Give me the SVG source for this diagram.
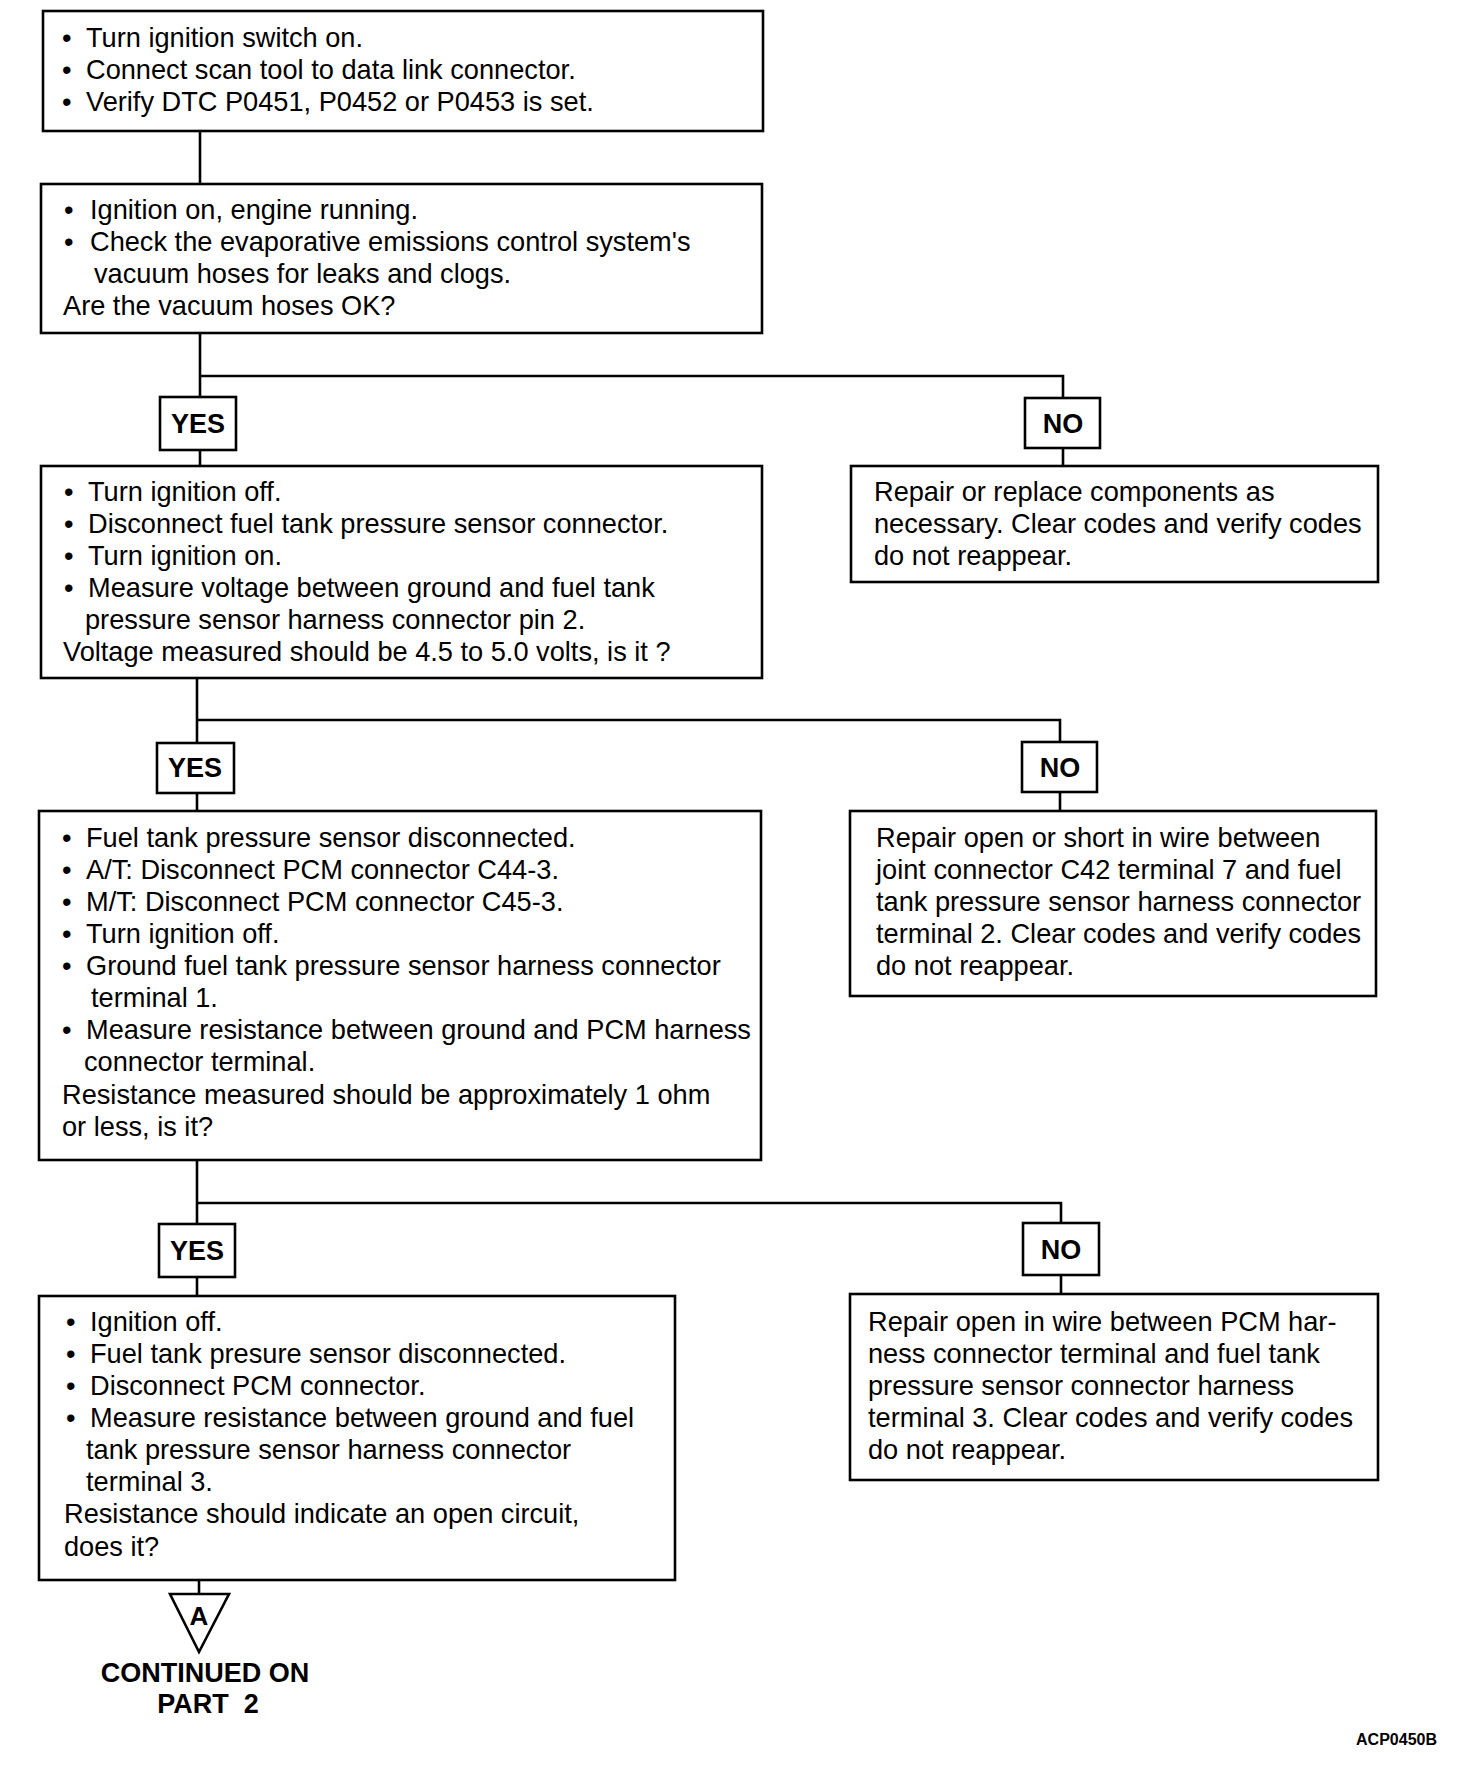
<svg xmlns="http://www.w3.org/2000/svg" width="1472" height="1788" viewBox="0 0 1472 1788">
<style>
.box{fill:#fff;stroke:#000;stroke-width:2.6}
.lbl{fill:#fff;stroke:#000;stroke-width:2.6}
.t{font-family:"Liberation Sans",Arial,sans-serif;font-size:27.2px;fill:#000}
.b{font-family:"Liberation Sans",Arial,sans-serif;font-size:27px;font-weight:bold;fill:#000;text-anchor:middle}
.c{fill:none;stroke:#000;stroke-width:2.6}
</style>
<rect width="1472" height="1788" fill="#fff"/>
<g id="connectors">
<path class="c" d="M200 131V184"/>
<path class="c" d="M200 333V397M200 450V466M200 376H1063V398M1063 448V466"/>
<path class="c" d="M197 678V743M197 793V811M197 720H1060V742M1060 792V811"/>
<path class="c" d="M197 1160V1224M197 1277V1296M197 1203H1061V1223M1061 1275V1294"/>
<path class="c" d="M199 1580V1594"/>
</g>
<g id="box1">
<rect class="box" x="43" y="11" width="720" height="120"/>
<text class="t" x="62" y="47">•</text><text class="t" x="86" y="47">Turn ignition switch on.</text>
<text class="t" x="62" y="79">•</text><text class="t" x="86" y="79">Connect scan tool to data link connector.</text>
<text class="t" x="62" y="111">•</text><text class="t" x="86" y="111">Verify DTC P0451, P0452 or P0453 is set.</text>
</g>
<g id="box2">
<rect class="box" x="41" y="184" width="721" height="149"/>
<text class="t" x="64" y="219">•</text><text class="t" x="90" y="219">Ignition on, engine running.</text>
<text class="t" x="64" y="251">•</text><text class="t" x="90" y="251">Check the evaporative emissions control system's</text>
<text class="t" x="94" y="283">vacuum hoses for leaks and clogs.</text>
<text class="t" x="63" y="315">Are the vacuum hoses OK?</text>
</g>
<g id="yes1"><rect class="lbl" x="160" y="397" width="76" height="53"/><text class="b" x="198" y="433">YES</text></g>
<g id="no1"><rect class="lbl" x="1025" y="398" width="75" height="50"/><text class="b" x="1063" y="433">NO</text></g>
<g id="box3">
<rect class="box" x="41" y="466" width="721" height="212"/>
<text class="t" x="64" y="501">•</text><text class="t" x="88" y="501">Turn ignition off.</text>
<text class="t" x="64" y="533">•</text><text class="t" x="88" y="533">Disconnect fuel tank pressure sensor connector.</text>
<text class="t" x="64" y="565">•</text><text class="t" x="88" y="565">Turn ignition on.</text>
<text class="t" x="64" y="597">•</text><text class="t" x="88" y="597">Measure voltage between ground and fuel tank</text>
<text class="t" x="85" y="629">pressure sensor harness connector pin 2.</text>
<text class="t" x="63" y="661">Voltage measured should be 4.5 to 5.0 volts, is it ?</text>
</g>
<g id="noresult1">
<rect class="box" x="851" y="466" width="527" height="116"/>
<text class="t" x="874" y="501">Repair or replace components as</text>
<text class="t" x="874" y="533">necessary. Clear codes and verify codes</text>
<text class="t" x="874" y="565">do not reappear.</text>
</g>
<g id="yes2"><rect class="lbl" x="157" y="743" width="77" height="50"/><text class="b" x="195" y="777">YES</text></g>
<g id="no2"><rect class="lbl" x="1022" y="742" width="75" height="50"/><text class="b" x="1060" y="777">NO</text></g>
<g id="box4">
<rect class="box" x="39" y="811" width="722" height="349"/>
<text class="t" x="62" y="847">•</text><text class="t" x="86" y="847">Fuel tank pressure sensor disconnected.</text>
<text class="t" x="62" y="879">•</text><text class="t" x="86" y="879">A/T: Disconnect PCM connector C44-3.</text>
<text class="t" x="62" y="911">•</text><text class="t" x="86" y="911">M/T: Disconnect PCM connector C45-3.</text>
<text class="t" x="62" y="943">•</text><text class="t" x="86" y="943">Turn ignition off.</text>
<text class="t" x="62" y="975">•</text><text class="t" x="86" y="975">Ground fuel tank pressure sensor harness connector</text>
<text class="t" x="91" y="1007">terminal 1.</text>
<text class="t" x="62" y="1039">•</text><text class="t" x="86" y="1039">Measure resistance between ground and PCM harness</text>
<text class="t" x="84" y="1071">connector terminal.</text>
<text class="t" x="62" y="1104">Resistance measured should be approximately 1 ohm</text>
<text class="t" x="62" y="1136">or less, is it?</text>
</g>
<g id="noresult2">
<rect class="box" x="850" y="811" width="526" height="185"/>
<text class="t" x="876" y="847">Repair open or short in wire between</text>
<text class="t" x="876" y="879">joint connector C42 terminal 7 and fuel</text>
<text class="t" x="876" y="911">tank pressure sensor harness connector</text>
<text class="t" x="876" y="943">terminal 2. Clear codes and verify codes</text>
<text class="t" x="876" y="975">do not reappear.</text>
</g>
<g id="yes3"><rect class="lbl" x="159" y="1224" width="76" height="53"/><text class="b" x="197" y="1260">YES</text></g>
<g id="no3"><rect class="lbl" x="1023" y="1223" width="76" height="52"/><text class="b" x="1061" y="1259">NO</text></g>
<g id="box5">
<rect class="box" x="39" y="1296" width="636" height="284"/>
<text class="t" x="66" y="1331">•</text><text class="t" x="90" y="1331">Ignition off.</text>
<text class="t" x="66" y="1363">•</text><text class="t" x="90" y="1363">Fuel tank presure sensor disconnected.</text>
<text class="t" x="66" y="1395">•</text><text class="t" x="90" y="1395">Disconnect PCM connector.</text>
<text class="t" x="66" y="1427">•</text><text class="t" x="90" y="1427">Measure resistance between ground and fuel</text>
<text class="t" x="86" y="1459">tank pressure sensor harness connector</text>
<text class="t" x="86" y="1491">terminal 3.</text>
<text class="t" x="64" y="1523">Resistance should indicate an open circuit,</text>
<text class="t" x="64" y="1556">does it?</text>
</g>
<g id="noresult3">
<rect class="box" x="850" y="1294" width="528" height="186"/>
<text class="t" x="868" y="1331">Repair open in wire between PCM har-</text>
<text class="t" x="868" y="1363">ness connector terminal and fuel tank</text>
<text class="t" x="868" y="1395">pressure sensor connector harness</text>
<text class="t" x="868" y="1427">terminal 3. Clear codes and verify codes</text>
<text class="t" x="868" y="1459">do not reappear.</text>
</g>
<g id="continued">
<polygon points="170,1594 229,1594 199,1652" fill="#fff" stroke="#000" stroke-width="2.6"/>
<text class="b" x="199" y="1625" style="font-size:26px">A</text>
<text class="b" x="205" y="1682">CONTINUED ON</text>
<text class="b" x="208" y="1713" xml:space="preserve">PART  2</text>
</g>
<text x="1437" y="1745" style="font-family:'Liberation Sans',Arial,sans-serif;font-size:16px;font-weight:bold;text-anchor:end">ACP0450B</text>
</svg>
